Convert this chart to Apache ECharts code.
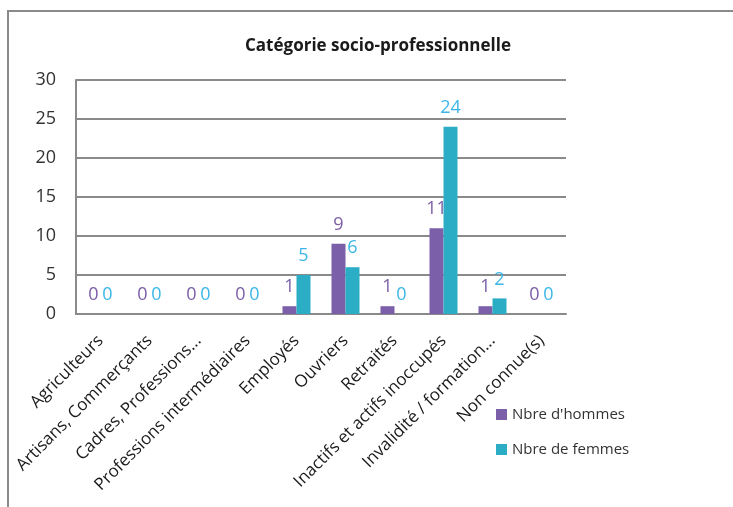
<!DOCTYPE html>
<html>
<head>
<meta charset="utf-8">
<script src="https://cdn.jsdelivr.net/npm/echarts@6/dist/echarts.min.js"></script>
<style>
html,body{margin:0;padding:0;background:#fff;}
#c{width:733px;height:507px;}
</style>
</head>
<body>
<div id="c"></div>
<script>
const categories = ["Agriculteurs","Artisans, Commerçants","Cadres, Professions...","Professions intermédiaires","Employés","Ouvriers","Retraités","Inactifs et actifs inoccupés","Invalidité / formation...","Non connue(s)"];
const hommes = [0,0,0,0,1,9,1,11,1,0];
const femmes = [0,0,0,0,5,6,0,24,2,0];
const seriesNames = ["Nbre d'hommes","Nbre de femmes"];
const yTicks = [0,5,10,15,20,25,30];

const font = "'Open Sans', 'Noto Sans', sans-serif";
const chart = echarts.init(document.getElementById('c'), null, {renderer:'canvas'});
chart.setOption({
  animation:false,
  backgroundColor:'#fff',
  title:{
    text:'Catégorie socio-professionnelle',
    left:373, top:33, textAlign:'center',
    textStyle:{fontFamily:font, fontSize:17, fontWeight:'bold', color:'#1a1a1a'}
  },
  graphic:[
    {type:'polyline', shape:{points:[[8,507],[8,11],[733,11]]}, style:{stroke:'#8a8a8a', lineWidth:2, fill:null}}
  ],
  legend:{
    orient:'vertical', left:491, top:402, itemWidth:11, itemHeight:11, itemGap:20,
    icon:'rect',
    textStyle:{fontFamily:font, fontSize:15, color:'#333'},
    data:seriesNames
  },
  grid:{left:76, right:167, top:80, bottom:193, containLabel:false},
  xAxis:{
    type:'category', data:categories,
    axisLine:{show:true, lineStyle:{color:'#8a8a8a', width:2}},
    axisTick:{show:false},
    axisLabel:{rotate:45, interval:0, margin:24, fontFamily:font, fontSize:17, color:'#1a1a1a'}
  },
  yAxis:{
    type:'value', min:yTicks[0], max:yTicks[yTicks.length-1], interval:5,
    axisLine:{show:true, lineStyle:{color:'#8a8a8a', width:2}},
    axisTick:{show:false},
    splitLine:{lineStyle:{color:'#8a8a8a', width:2}},
    axisLabel:{margin:20, fontFamily:font, fontSize:18, color:'#333'}
  },
  series:[
    {name:seriesNames[0], type:'bar', data:hommes, barWidth:14, barGap:'0%',
     itemStyle:{color:'#7b5fa9'},
     label:{show:true, position:'top', distance:10, fontFamily:font, fontSize:18, color:'#7b5ea7'}},
    {name:seriesNames[1], type:'bar', data:femmes, barWidth:14, barGap:'0%',
     itemStyle:{color:'#2badc6'},
     label:{show:true, position:'top', distance:10, fontFamily:font, fontSize:18, color:'#3cb6e8'}}
  ]
});
</script>
</body>
</html>
